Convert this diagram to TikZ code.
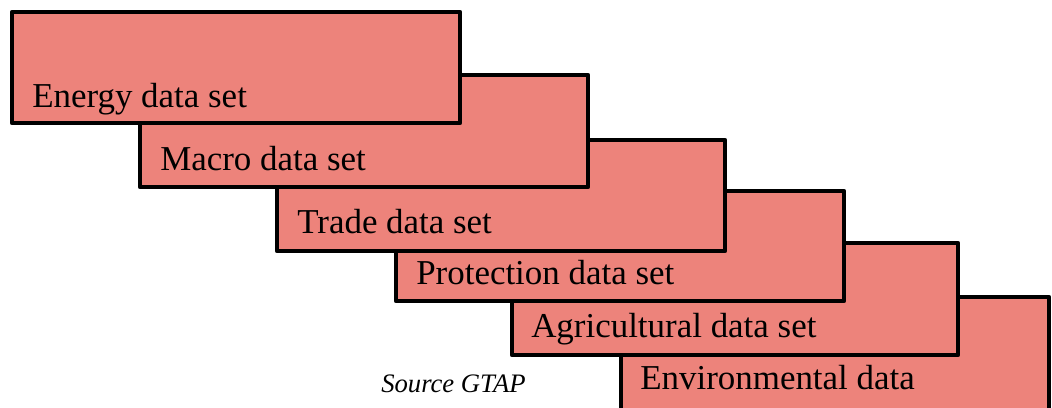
\documentclass[tikz,border=0pt]{standalone}
\usepackage{fontspec}
\setmainfont{Liberation Serif}
\usepackage{tikz}
\usetikzlibrary{positioning}
\definecolor{dssalmon}{RGB}{237,131,123}
\tikzstyle{dsbox} = [fill=dssalmon, draw=black, line width=3.6pt, line join=round]
\tikzstyle{dslabel} = [anchor=base west, inner sep=0pt, font=\fontsize{26.2}{29}\selectfont]

\begin{document}
\begin{tikzpicture}[x=0.75pt, y=-0.75pt]
\useasboundingbox (0,0) rectangle (1052,407);
\clip (0,0) rectangle (1052,407);

% Boxes, back to front
\filldraw[dsbox] (621,297) rectangle (1049,430);
\filldraw[dsbox] (512,243) rectangle (958,355);
\filldraw[dsbox] (396,191) rectangle (844,301);
\filldraw[dsbox] (277,140) rectangle (725,251);
\filldraw[dsbox] (140,75) rectangle (588,187);
\filldraw[dsbox] (12,12) rectangle (460,123);

% Labels
\node[dslabel] (energy) at (32,107) {Energy data set};
\node[dslabel] (macro) at (160,170) {Macro data set};
\node[dslabel] (trade) at (297,233) {Trade data set};
\node[dslabel] (protection) at (416,284) {Protection data set};
\node[dslabel] (agri) at (531,337) {Agricultural data set};
\node[dslabel] (environ) at (640,389) {Environmental data};

% Source
\node[anchor=base west, inner sep=0pt, font=\fontsize{20}{23}\selectfont\itshape] (source) at (381,392) {Source GTAP};
\end{tikzpicture}
\end{document}
